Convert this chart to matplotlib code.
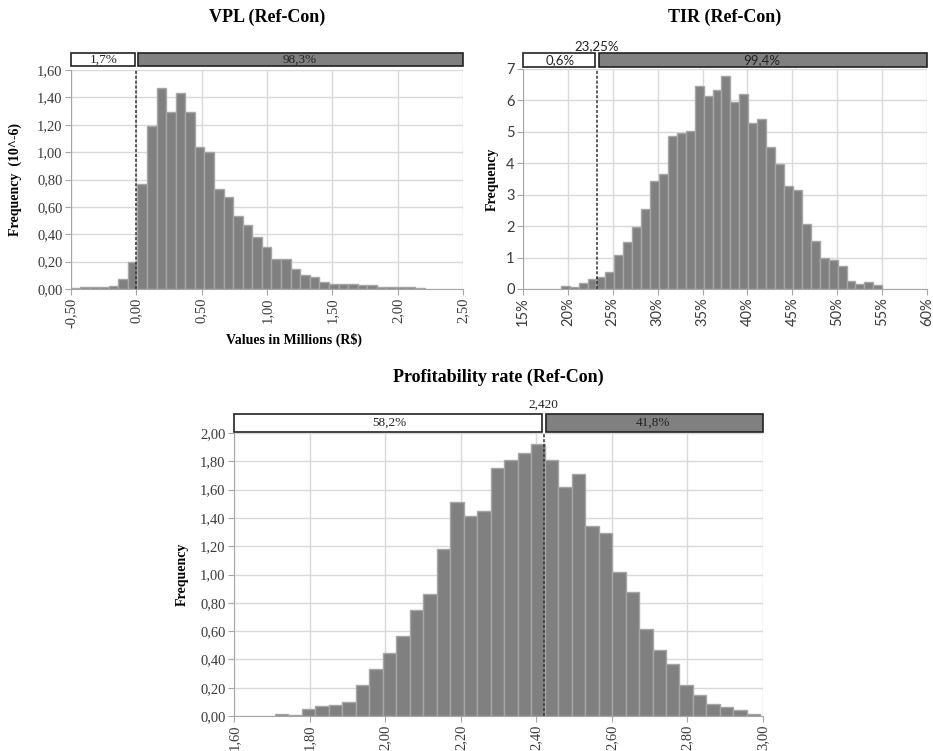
import numpy as np
import matplotlib
matplotlib.use('Agg')
import matplotlib.pyplot as plt
import matplotlib.transforms as mtransforms
from matplotlib.patches import Rectangle
from matplotlib.ticker import FuncFormatter, MultipleLocator

# VPL histogram (frequency x 10^-6), bins in millions R$
vpl_bin_start = -0.505
vpl_bin_width = 0.0733
vpl_freq = [0.005, 0.012, 0.012, 0.012, 0.02, 0.07, 0.20,
            0.77, 1.19, 1.47, 1.29, 1.43, 1.29, 1.04, 1.00, 0.73, 0.67,
            0.53, 0.47, 0.38, 0.31, 0.22, 0.22, 0.144, 0.10, 0.086, 0.05,
            0.04, 0.04, 0.04, 0.027, 0.027, 0.017, 0.017, 0.017, 0.017, 0.01]
vpl_cut = 0.0
vpl_split = ['1,7%', '98,3%']

# TIR histogram, bins in %
tir_bin_start = 19.2
tir_bin_width = 0.995
tir_freq = [0.08, 0.05, 0.18, 0.33, 0.37, 0.55, 1.08, 1.48, 1.97, 2.53,
            3.43, 3.67, 4.88, 4.96, 5.04, 6.47, 6.15, 6.33, 6.79, 5.96,
            6.19, 5.27, 5.40, 4.53, 3.98, 3.29, 3.16, 2.07, 1.52, 0.98,
            0.91, 0.72, 0.27, 0.16, 0.22, 0.13]
tir_cut = 23.25
tir_cut_label = '23,25%'
tir_split = ['0,6%', '99,4%']

# profitability rate histogram
prof_bin_start = 1.708
prof_bin_width = 0.0357
prof_freq = [0.017, 0.01, 0.05, 0.07, 0.08, 0.10, 0.22, 0.335, 0.446, 0.566,
             0.752, 0.861, 1.18, 1.51, 1.415, 1.45, 1.75, 1.81, 1.86, 1.92,
             1.81, 1.62, 1.71, 1.34, 1.29, 1.02, 0.877, 0.613, 0.465, 0.366,
             0.222, 0.151, 0.087, 0.064, 0.04, 0.017]
prof_cut = 2.42
prof_cut_label = '2,420'
prof_split = ['58,2%', '41,8%']

SERIF = 'Liberation Serif'
SANS = 'Lato'


def comma(fmt):
    return FuncFormatter(lambda v, p: format(v, fmt).replace('.', ','))


def panel(ax, start, width, freq, xlim, xstep, ylim, ystep, cut, split,
          band, xfmt, yfmt, font, tick_size, band_size, cut_label=None, label_y=None):
    edges = start + width * np.arange(len(freq))
    ax.bar(edges, freq, width=width, align='edge', color='#808080',
           edgecolor='#a6a6a6', linewidth=1, zorder=2)
    ax.set_xlim(*xlim)
    ax.set_ylim(*ylim)
    ax.xaxis.set_major_locator(MultipleLocator(xstep))
    ax.yaxis.set_major_locator(MultipleLocator(ystep))
    ax.xaxis.set_major_formatter(xfmt)
    ax.yaxis.set_major_formatter(yfmt)
    ax.grid(True, color='#d9d9d9', linewidth=1, zorder=0)
    ax.set_axisbelow(True)
    for s in ['top', 'right']:
        ax.spines[s].set_visible(False)
    for s in ['left', 'bottom']:
        ax.spines[s].set_color('#a6a6a6')
        ax.spines[s].set_zorder(3)
    ax.tick_params(axis='both', length=4, color='#a6a6a6', labelcolor='#3a3a3a',
                   labelsize=tick_size, pad=2)
    ax.tick_params(axis='x', labelrotation=90)
    for lab in ax.get_xticklabels() + ax.get_yticklabels():
        lab.set_family(font)
    ax.axvline(cut, color='#333333', linestyle=(0, (2, 1.2)), linewidth=1.1, zorder=4)

    trans = mtransforms.blended_transform_factory(ax.transData, ax.transAxes)
    gap = (xlim[1] - xlim[0]) * 0.004
    y0, y1 = band
    ax.add_patch(Rectangle((xlim[0], y0), cut - gap - xlim[0], y1 - y0, transform=trans,
                           facecolor='white', edgecolor='#222222', linewidth=1.2, clip_on=False))
    ax.add_patch(Rectangle((cut + gap, y0), xlim[1] - cut - gap, y1 - y0, transform=trans,
                           facecolor='#808080', edgecolor='#222222', linewidth=1.2, clip_on=False))
    ym = (y0 + y1) / 2
    ax.text((xlim[0] + cut) / 2, ym, split[0], transform=trans, ha='center', va='center',
            family=font, fontsize=band_size, color='#222222')
    ax.text((cut + xlim[1]) / 2, ym, split[1], transform=trans, ha='center', va='center',
            family=font, fontsize=band_size, color='#222222')
    if cut_label:
        ax.text(cut, label_y, cut_label, transform=trans, ha='center', va='center',
                family=font, fontsize=band_size, color='#222222')


fig = plt.figure(figsize=(9.33, 7.51), dpi=100)

ax1 = fig.add_axes([71 / 933, 1 - 289 / 751, 392 / 933, 219 / 751])
panel(ax1, vpl_bin_start, vpl_bin_width, vpl_freq, (-0.5, 2.5), 0.5, (0, 1.6), 0.2,
      vpl_cut, vpl_split, (1.016, 1.078), comma('.2f'), comma('.2f'), SERIF, 10.5, 9.5)
ax1.set_ylabel('Frequency  (10^-6)', family=SERIF, fontweight='bold', fontsize=10)
ax1.yaxis.set_label_coords(-0.125, 0.5)
ax1.set_xlabel('Values in Millions (R$)', family=SERIF, fontweight='bold', fontsize=10)
ax1.xaxis.set_label_coords(0.57, -0.2)

ax2 = fig.add_axes([523 / 933, 1 - 289 / 751, 404 / 933, 220 / 751])
panel(ax2, tir_bin_start, tir_bin_width, tir_freq, (15, 60), 5, (0, 7), 1,
      tir_cut, tir_split, (1.0105, 1.074),
      FuncFormatter(lambda v, p: '%d%%' % round(v)), FuncFormatter(lambda v, p: '%d' % round(v)),
      SANS, 10.5, 9.5, cut_label=tir_cut_label, label_y=1.106)
ax2.set_ylabel('Frequency', family=SERIF, fontweight='bold', fontsize=10)
ax2.yaxis.set_label_coords(-0.06, 0.5)

ax3 = fig.add_axes([234 / 933, 1 - 716 / 751, 529 / 933, 283 / 751])
panel(ax3, prof_bin_start, prof_bin_width, prof_freq, (1.6, 3.0), 0.2, (0, 2.0), 0.2,
      prof_cut, prof_split, (1.0046, 1.066), comma('.2f'), comma('.2f'), SERIF, 10.5, 9.5,
      cut_label=prof_cut_label, label_y=1.099)
ax3.set_ylabel('Frequency', family=SERIF, fontweight='bold', fontsize=10)
ax3.yaxis.set_label_coords(-0.085, 0.5)

fig.text(267 / 933, 1 - 17 / 751, 'VPL (Ref-Con)', ha='center', va='center',
         family=SERIF, fontweight='bold', fontsize=13)
fig.text(725 / 933, 1 - 17 / 751, 'TIR (Ref-Con)', ha='center', va='center',
         family=SERIF, fontweight='bold', fontsize=13)
fig.text(498 / 933, 1 - 377 / 751, 'Profitability rate (Ref-Con)', ha='center', va='center',
         family=SERIF, fontweight='bold', fontsize=13)

fig.savefig('out.png', dpi=100, facecolor='white')
